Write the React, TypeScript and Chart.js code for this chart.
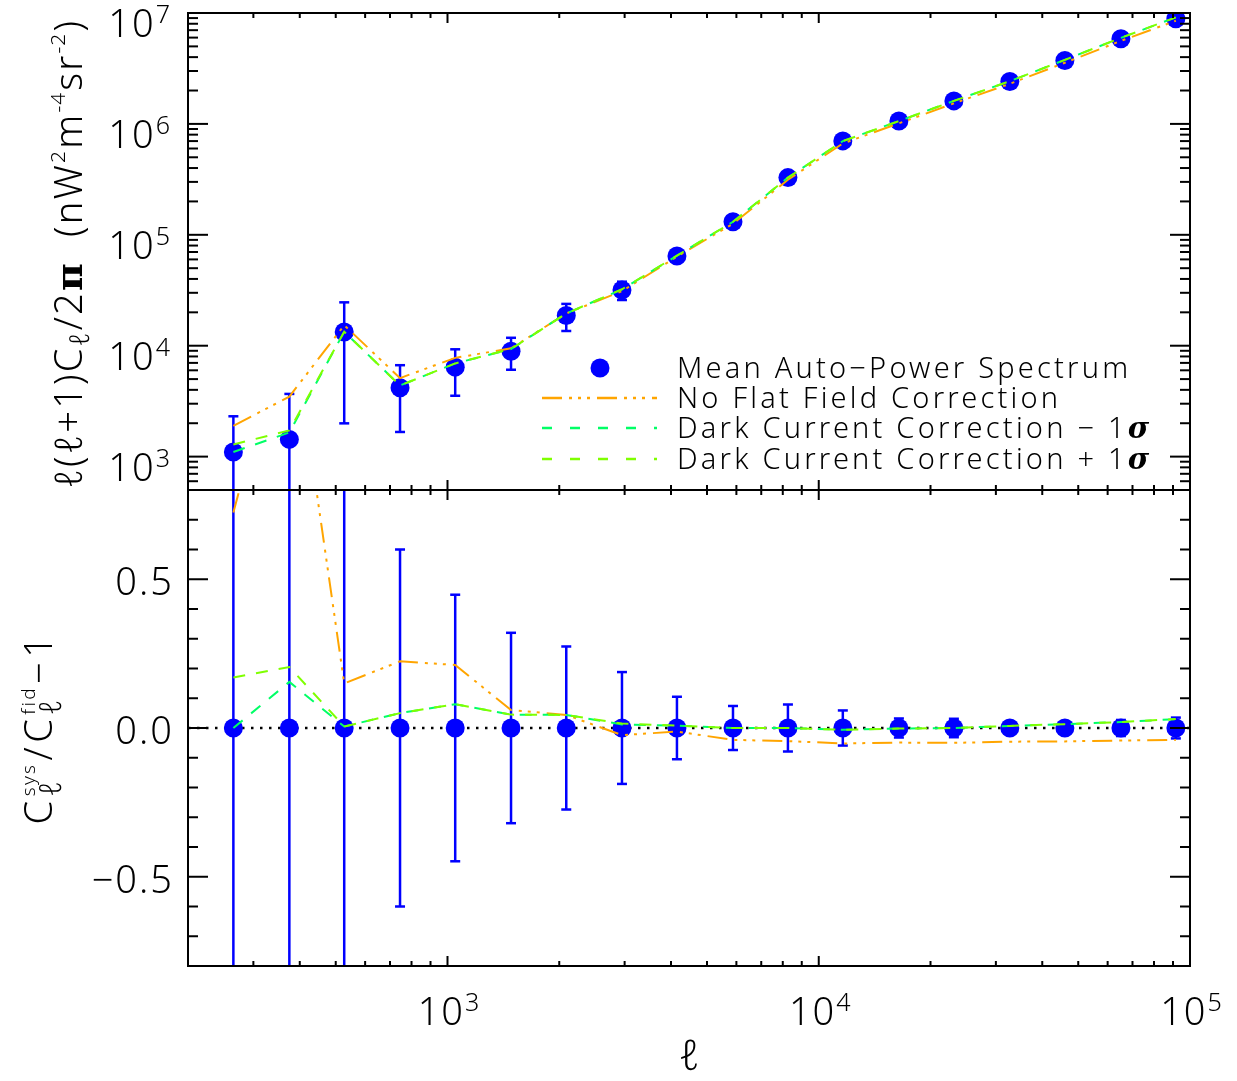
import React, { useEffect, useRef } from 'react';
import { Chart, registerables } from 'chart.js';

Chart.register(...registerables);

// ---------------- data ----------------
const ell = [265, 375, 527, 745, 1049, 1483, 2089, 2951, 4150, 5875, 8260, 11610, 16440, 23120, 32710, 46020, 65150, 91600];
const meanPower = [1100, 1430, 13300, 4170, 6410, 8930, 18700, 31800, 64400, 131000, 328000, 703000, 1064000, 1613000, 2410000, 3730000, 5850000, 8870000];
const relErr = [1.1, 1.57, 0.85, 0.6, 0.448, 0.32, 0.274, 0.188, 0.105, 0.074, 0.079, 0.059, 0.032, 0.031, 0.02, 0.015, 0.027, 0.035];
const noFlatRatio = [0.724, 1.43, 0.15, 0.224, 0.212, 0.06, 0.044, -0.024, -0.012, -0.04, -0.044, -0.052, -0.049, -0.05, -0.046, -0.045, -0.042, -0.04];
const darkMinusRatio = [0.0, 0.155, 0.005, 0.05, 0.08, 0.045, 0.044, 0.012, 0.008, 0.0, 0.0, -0.006, -0.002, 0.0, 0.007, 0.013, 0.02, 0.03];
const darkPlusRatio = [0.17, 0.205, 0.005, 0.05, 0.08, 0.045, 0.044, 0.015, 0.008, 0.0, 0.0, -0.006, -0.002, 0.0, 0.007, 0.013, 0.02, 0.03];

const xRange = [200, 100000];
const topYRange = [500, 10000000];
const bottomYRange = [-0.8, 0.8];
const xTickExponents = [3, 4, 5];
const topTickExponents = [3, 4, 5, 6, 7];
const bottomTickValues = [-0.5, 0, 0.5];
const bottomTickLabels = ['\u22120.5', '0.0', '0.5'];
const legendLabels = ['Mean Auto\u2212Power Spectrum', 'No Flat Field Correction', 'Dark Current Correction \u2212 1', 'Dark Current Correction + 1'];

// ---------------- styles ----------------
const BLUE = '#0000FF';
const ORANGE = '#FFA500';
const SPRING = '#00FF66';
const LIME = '#7FFF00';
const FONT = "'Noto Sans', 'DejaVu Sans', sans-serif";
const SCRIPT = "'Noto Sans', 'DejaVu Sans', sans-serif";
const SERIF = "'DejaVu Serif', serif";
const ORANGE_DASH = [20, 7, 3, 6, 3, 6, 3, 7];
const GREEN_DASH = [12, 11];

type Seg = { t?: string; sup?: string; sub?: string; italic?: boolean; bold?: boolean; family?: string; scale?: number; subScale?: number };
type RichOpts = { size: number; spacing?: number; weight?: number; scriptScale?: number; rise?: number; drop?: number; color?: string };

function segFont(s: Seg, size: number, weight: number) {
  return `${s.italic ? 'italic ' : ''}${s.bold ? 'bold' : weight} ${size}px ${s.family || FONT}`;
}

function segAdvance(ctx: any, s: Seg, o: RichOpts) {
  const sp = o.spacing ?? 0;
  const w8 = o.weight ?? 300;
  if (s.t !== undefined) {
    ctx.font = segFont(s, o.size * (s.scale ?? 1), w8);
    ctx.letterSpacing = sp + 'px';
    return ctx.measureText(s.t).width;
  }
  const ss = o.size * (o.scriptScale ?? 0.62) * (s.scale ?? 1);
  let w = 0;
  if (s.sup) {
    ctx.font = segFont(s, ss, w8);
    ctx.letterSpacing = sp * 0.5 + 'px';
    w = Math.max(w, ctx.measureText(s.sup).width);
  }
  if (s.sub) {
    ctx.font = segFont(s, ss * (s.subScale ?? 1), w8);
    ctx.letterSpacing = sp * 0.5 + 'px';
    w = Math.max(w, ctx.measureText(s.sub).width);
  }
  return w + sp * 0.5;
}

function drawRich(ctx: any, segs: Seg[], x: number, y: number, o: RichOpts, align: 'left' | 'center' | 'right') {
  let total = 0;
  for (const s of segs) total += segAdvance(ctx, s, o);
  let cx = align === 'left' ? x : align === 'center' ? x - total / 2 : x - total;
  ctx.textAlign = 'left';
  ctx.textBaseline = 'alphabetic';
  ctx.fillStyle = o.color ?? '#000';
  const sp = o.spacing ?? 0;
  const w8 = o.weight ?? 300;
  for (const s of segs) {
    const adv = segAdvance(ctx, s, o);
    if (s.t !== undefined) {
      ctx.font = segFont(s, o.size * (s.scale ?? 1), w8);
      ctx.letterSpacing = sp + 'px';
      ctx.fillText(s.t, cx, y);
    } else {
      const ss = o.size * (o.scriptScale ?? 0.62) * (s.scale ?? 1);
      ctx.letterSpacing = sp * 0.5 + 'px';
      if (s.sup) {
        ctx.font = segFont(s, ss, w8);
        ctx.fillText(s.sup, cx, y - (o.rise ?? o.size * 0.42));
      }
      if (s.sub) {
        ctx.font = segFont(s, ss * (s.subScale ?? 1), w8);
        ctx.fillText(s.sub, cx, y + (o.drop ?? o.size * 0.2));
      }
    }
    cx += adv;
  }
  ctx.letterSpacing = '0px';
}

function line(ctx: any, x1: number, y1: number, x2: number, y2: number) {
  ctx.beginPath();
  ctx.moveTo(x1, y1);
  ctx.lineTo(x2, y2);
  ctx.stroke();
}

const TICK_OPTS: RichOpts = { size: 38, spacing: 2, weight: 300, scriptScale: 0.66, rise: 14 };

function drawErrorBars(chart: any, panel: string) {
  const { ctx, chartArea: a, scales } = chart;
  const x = scales.x;
  const y = scales.y;
  ctx.save();
  ctx.beginPath();
  ctx.rect(a.left, a.top, a.right - a.left, a.bottom - a.top);
  ctx.clip();
  ctx.strokeStyle = BLUE;
  ctx.lineWidth = 2.5;
  ell.forEach((l, i) => {
    const px = x.getPixelForValue(l);
    let hiV: number;
    let loV: number;
    if (panel === 'top') {
      hiV = meanPower[i] * (1 + relErr[i]);
      loV = meanPower[i] * (1 - relErr[i]);
    } else {
      hiV = relErr[i];
      loV = -relErr[i];
    }
    const pyHi = y.getPixelForValue(hiV);
    const pyLo = panel === 'top' && loV <= 0 ? a.bottom + 60 : y.getPixelForValue(loV);
    line(ctx, px, pyHi, px, pyLo);
    line(ctx, px - 5, pyHi, px + 5, pyHi);
    line(ctx, px - 5, pyLo, px + 5, pyLo);
  });
  ctx.restore();
}

function drawFrame(chart: any, panel: string) {
  const { ctx, chartArea: a, scales } = chart;
  const x = scales.x;
  const y = scales.y;
  ctx.save();
  ctx.strokeStyle = '#000';
  ctx.lineWidth = 2;
  ctx.strokeRect(a.left, a.top, a.right - a.left, a.bottom - a.top);
  // x ticks (log)
  for (let e = 2; e <= 5; e++) {
    for (let m = 1; m <= 9; m++) {
      const v = m * Math.pow(10, e);
      if (v <= x.min || v >= x.max) continue;
      const px = x.getPixelForValue(v);
      const len = m === 1 ? 10 : 5;
      line(ctx, px, a.bottom, px, a.bottom - len);
      line(ctx, px, a.top, px, a.top + len);
    }
  }
  // y ticks
  if (panel === 'top') {
    for (let e = 2; e <= 7; e++) {
      for (let m = 1; m <= 9; m++) {
        const v = m * Math.pow(10, e);
        if (v <= y.min || v >= y.max) continue;
        const py = y.getPixelForValue(v);
        const len = m === 1 ? 20 : 10;
        line(ctx, a.left, py, a.left + len, py);
        line(ctx, a.right, py, a.right - len, py);
      }
    }
  } else {
    for (let i = -7; i <= 7; i++) {
      const py = y.getPixelForValue(i / 10);
      const len = i % 5 === 0 ? 20 : 10;
      line(ctx, a.left, py, a.left + len, py);
      line(ctx, a.right, py, a.right - len, py);
    }
  }
  ctx.restore();

  ctx.save();
  if (panel === 'top') {
    // y tick labels
    topTickExponents.forEach((k) => {
      const py = y.getPixelForValue(Math.pow(10, k));
      drawRich(ctx, [{ t: '10' }, { sup: String(k) }], a.left - 16, py + 24, TICK_OPTS, 'right');
    });
    // y title
    ctx.save();
    ctx.translate(82, (a.top + a.bottom) / 2 + 2);
    ctx.rotate(-Math.PI / 2);
    drawRich(
      ctx,
      [
        { t: '\u2113', family: SCRIPT, italic: true },
        { t: '(' },
        { t: '\u2113', family: SCRIPT, italic: true },
        { t: '+1)C' },
        { sub: '\u2113', family: SCRIPT, italic: true, scale: 1.3 },
        { t: '/2' },
        { t: '\u03C0', family: SERIF, bold: true },
        { t: '  (nW' },
        { sup: '2' },
        { t: 'm' },
        { sup: '-4' },
        { t: 'sr' },
        { sup: '-2' },
        { t: ')' },
      ],
      0,
      0,
      { size: 38, spacing: 2.2, weight: 300, scriptScale: 0.55, rise: 17, drop: 7 },
      'center'
    );
    ctx.restore();
    // legend
    const lx0 = 542;
    const lx1 = 657;
    const tx = 677;
    const rows = [368, 398, 428, 459];
    ctx.fillStyle = BLUE;
    ctx.beginPath();
    ctx.arc(600, rows[0], 9.5, 0, Math.PI * 2);
    ctx.fill();
    const styles = [
      { c: ORANGE, d: ORANGE_DASH },
      { c: SPRING, d: [10, 18] },
      { c: LIME, d: [10, 18] },
    ];
    styles.forEach((s, i) => {
      ctx.save();
      ctx.strokeStyle = s.c;
      ctx.lineWidth = 2.5;
      ctx.setLineDash(s.d);
      line(ctx, lx0, rows[i + 1], lx1, rows[i + 1]);
      ctx.restore();
    });
    const LOPTS: RichOpts = { size: 29, spacing: 3.2, weight: 300 };
    legendLabels.forEach((lab, i) => {
      const segs: Seg[] = [{ t: lab }];
      if (i >= 2) segs.push({ t: '\u03C3', family: SERIF, italic: true, bold: true });
      drawRich(ctx, segs, tx, rows[i] + 10, LOPTS, 'left');
    });
  } else {
    bottomTickValues.forEach((v, i) => {
      const py = y.getPixelForValue(v);
      drawRich(ctx, [{ t: bottomTickLabels[i] }], a.left - 14, py + 16, TICK_OPTS, 'right');
    });
    xTickExponents.forEach((k) => {
      const px = x.getPixelForValue(Math.pow(10, k));
      drawRich(ctx, [{ t: '10' }, { sup: String(k) }], px + 2, a.bottom + 59, TICK_OPTS, 'center');
    });
    // x title
    drawRich(ctx, [{ t: '\u2113', family: SCRIPT, italic: true }], (a.left + a.right) / 2, a.bottom + 104, { size: 42, weight: 300 }, 'center');
    // y title
    ctx.save();
    ctx.translate(52, (a.top + a.bottom) / 2);
    ctx.rotate(-Math.PI / 2);
    drawRich(
      ctx,
      [
        { t: 'C' },
        { sup: 'sys', sub: '\u2113', family: FONT, subScale: 1.6 },
        { t: '/' },
        { t: 'C' },
        { sup: 'fid', sub: '\u2113', family: FONT, subScale: 1.6 },
        { t: '\u22121' },
      ],
      0,
      0,
      { size: 38, spacing: 4.5, weight: 300, scriptScale: 0.5, rise: 17, drop: 9 },
      'center'
    );
    ctx.restore();
  }
  ctx.restore();
}

const panelPlugin = {
  id: 'panel',
  beforeDatasetsDraw(chart: any, _args: any, opts: any) {
    drawErrorBars(chart, opts.panel);
  },
  afterDraw(chart: any, _args: any, opts: any) {
    drawFrame(chart, opts.panel);
  },
};

function lineDataset(label: string, ys: number[], color: string, dash: number[], order: number) {
  return {
    label,
    data: ell.map((l, i) => ({ x: l, y: ys[i] })),
    showLine: true,
    borderColor: color,
    backgroundColor: color,
    borderDash: dash,
    borderWidth: 2,
    pointRadius: 0,
    fill: false,
    tension: 0,
    order,
  };
}

function makeConfig(panel: 'top' | 'bottom') {
  const isTop = panel === 'top';
  const conv = (r: number[]) => (isTop ? r.map((v, i) => meanPower[i] * (1 + v)) : r);
  const datasets: any[] = [
    lineDataset(legendLabels[1], conv(noFlatRatio), ORANGE, ORANGE_DASH, 2),
    lineDataset(legendLabels[2], conv(darkMinusRatio), SPRING, GREEN_DASH, 1),
    lineDataset(legendLabels[3], conv(darkPlusRatio), LIME, GREEN_DASH, 0),
    {
      label: legendLabels[0],
      data: ell.map((l, i) => ({ x: l, y: isTop ? meanPower[i] : 0 })),
      showLine: false,
      pointRadius: 9.5,
      pointBackgroundColor: BLUE,
      pointBorderWidth: 0,
      backgroundColor: BLUE,
      borderColor: BLUE,
      order: 5,
    },
  ];
  if (!isTop) {
    datasets.push({
      label: 'zero',
      data: [
        { x: xRange[0], y: 0 },
        { x: xRange[1], y: 0 },
      ],
      showLine: true,
      borderColor: '#000',
      borderDash: [2.5, 6.5],
      borderWidth: 2.5,
      pointRadius: 0,
      order: 6,
    });
  }
  return {
    type: 'scatter' as const,
    data: { datasets },
    options: {
      responsive: false,
      animation: false as const,
      events: [] as any[],
      layout: {
        padding: isTop ? { left: 188, right: 47, top: 13, bottom: 591 } : { left: 188, right: 47, top: 490, bottom: 115 },
      },
      scales: {
        x: { type: 'logarithmic' as const, min: xRange[0], max: xRange[1], display: false },
        y: isTop
          ? { type: 'logarithmic' as const, min: topYRange[0], max: topYRange[1], display: false }
          : { type: 'linear' as const, min: bottomYRange[0], max: bottomYRange[1], display: false },
      },
      plugins: {
        legend: { display: false },
        tooltip: { enabled: false },
        panel: { panel },
      } as any,
    },
    plugins: [panelPlugin],
  };
}

export default function App() {
  const topRef = useRef<HTMLCanvasElement>(null);
  const botRef = useRef<HTMLCanvasElement>(null);
  useEffect(() => {
    document.body.style.margin = '0';
    document.body.style.overflow = 'hidden';
    const c1 = new Chart(topRef.current as HTMLCanvasElement, makeConfig('top') as any);
    const c2 = new Chart(botRef.current as HTMLCanvasElement, makeConfig('bottom') as any);
    return () => {
      c1.destroy();
      c2.destroy();
    };
  }, []);
  const st: React.CSSProperties = { position: 'absolute', left: 0, top: 0, width: 1237, height: 1081 };
  return (
    <div style={{ position: 'relative', width: 1237, height: 1081, background: '#fff' }}>
      <canvas ref={botRef} width={1237} height={1081} style={st} />
      <canvas ref={topRef} width={1237} height={1081} style={st} />
    </div>
  );
}
